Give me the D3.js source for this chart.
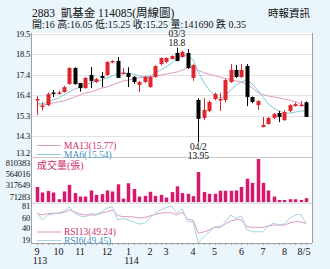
<!DOCTYPE html>
<html>
<head>
<meta charset="utf-8">
<script src="https://cdn.jsdelivr.net/npm/d3@7"></script>
<style>
	html, body { margin: 0; padding: 0; background: #eaf5fc; }
	svg { display: block; font-family: "Liberation Serif", "Noto Sans CJK TC", serif; }
</style>
</head>
<body>
<svg id="chart" width="330" height="269"></svg>
<script>
"use strict";

// Weekly candles, 2883 (Sept 113 .. 8/5 114)
var opens  = [16.12,15.78,15.86,16.5,16.45,16.53,16.94,17.76,16.99,16.73,17.4,17.04,17.35,17.4,18.05,18.12,17.48,17.5,17.3,16.89,17.04,16.78,17.3,17.96,18.07,18.22,18.53,18.32,18.53,17.25,16.12,15.2,15.56,16.17,16.12,16.12,17.04,17.66,17.3,17.86,16.27,15.86,14.74,14.89,15.2,15.45,15.09,15.56,15.81,15.84,16.0];
var closes = [16.17,15.83,16.43,16.45,16.5,16.78,17.76,16.94,16.73,17.25,17.09,17.19,17.25,18.07,18.12,17.25,17.52,17.3,17.04,17.04,17.3,17.3,17.86,18.27,18.27,18.37,18.12,18.58,17.76,17.91,15.15,15.61,16.02,16.43,16.17,17.14,17.66,17.3,17.66,16.27,16.02,16.07,14.84,15.2,15.4,15.25,15.5,15.86,15.91,15.88,15.25];
var highs  = [16.32,16.0,16.5,16.63,16.6,16.85,17.8,17.8,17.0,17.3,17.81,17.25,17.55,18.1,18.15,18.32,17.76,17.8,17.35,17.1,17.35,17.35,17.9,18.3,18.3,18.4,18.8,18.65,18.73,17.95,16.2,16.22,16.1,16.5,16.48,17.2,17.96,17.91,17.96,17.96,16.3,16.1,15.25,15.25,15.45,15.56,15.6,15.9,16.0,16.07,16.05];
var lows   = [15.35,15.6,15.8,16.27,16.4,16.5,16.9,16.9,16.55,16.7,16.73,17.0,16.78,17.35,18.0,17.25,17.45,16.78,16.95,16.53,17.0,16.75,17.25,17.9,18.0,18.2,18.1,18.3,17.71,17.1,13.95,15.09,15.5,16.1,15.56,16.0,17.0,17.25,17.25,15.81,15.96,15.61,14.72,14.85,15.15,14.99,15.05,15.5,15.78,15.8,15.25];
var volumes = [283600,179400,206400,179400,52100,198700,322200,167900,102300,102300,218000,135100,148600,218000,198700,333800,63700,353100,245000,102300,115800,193000,115800,135000,83000,187200,295200,167900,154400,110000,565300,187200,154400,154400,212200,212200,212200,218000,283600,438000,360800,810383,360800,218000,102300,38600,38600,52100,52100,38600,71400];
var ma13 = [15.86,15.86,15.91,15.97,16.02,16.07,16.17,16.27,16.38,16.48,16.53,16.63,16.73,16.78,16.89,16.99,17.09,17.14,17.19,17.25,17.30,17.30,17.35,17.40,17.45,17.50,17.55,17.66,17.76,17.81,17.64,17.52,17.44,17.37,17.29,17.22,17.17,17.10,17.04,16.92,16.74,16.52,16.38,16.32,16.28,16.22,16.16,16.10,16.03,15.92,15.77];
var ma6  = [15.97,15.91,16.02,16.12,16.22,16.38,16.53,16.68,16.78,16.89,16.99,17.09,17.14,17.25,17.35,17.45,17.50,17.50,17.45,17.35,17.30,17.35,17.50,17.66,17.81,18.01,18.22,18.37,18.42,18.17,17.55,17.04,16.63,16.38,16.22,16.32,16.63,16.89,17.04,17.14,16.94,16.63,16.27,15.91,15.71,15.56,15.45,15.45,15.50,15.56,15.54];
var rsi13 = [67.7,64.6,67.3,67.7,67.7,69.1,73.7,70.1,66.4,64.6,64.6,64.6,68.2,70.6,73.7,63.7,61.5,61.5,60.9,59.1,60.0,62.8,65.5,68.2,68.8,68.8,64.6,70.1,56.7,55.5,31.2,33.6,37.2,42.7,43.3,48.2,53.6,56.4,55.5,43.3,42.2,42.2,42.2,44.5,46.4,46.4,46.4,50.0,52.4,52.4,49.24];
var rsi6  = [68.8,55.5,64.6,66.4,68.2,71.9,79.2,68.2,62.8,60.9,67.3,65.5,70.1,76.8,79.7,55.5,58.2,55.5,51.8,48.2,50.0,58.6,68.2,73.7,78.3,81.0,67.7,76.4,52.4,51.8,13.5,24.5,33.6,42.7,40.3,51.8,64.6,58.6,62.8,37.2,34.1,34.1,34.1,44.5,50.0,46.4,48.2,59.1,64.6,66.4,49.45];

// Axis labels
var priceTicks = ['19.5','18.5','17.4','16.4','15.3','14.3','13.2'];
var volTicks = ['810383','564016','317649','71283'];
var rsiTicks = ['81','60','40','19'];
var monthLabels = ['9','10','11','12','1','2','3','4','5','6','7','8','8/5'];
var monthIndex  = [0,4,8,13,17,21,24,29,33,38,42,46,50];
var yearLabels = ['113','114'];
var yearIndex  = [0,17];

+function(d3){

	var colors = {
		bg: '#eaf5fc',
		up: '#e0262c',
		down: '#000',
		vol: '#d8186e',
		ma13: '#dc9cbc',
		ma6: '#86c6da',
		rsi6: '#a6d2e2',
		pinkText: '#d2306c',
		blueText: '#3f92c4',
		grid: '#e2e2e2',
		axis: '#a0a0a0',
		text: '#111'
	};

	var svg = d3.select('#chart');
	var W = 330, H = 269;
	var left = 31, right = 312, plotTop = 33, priceBottom = 157.5, volBottom = 203, bottom = 243;

	svg.append('rect').attr('width', W).attr('height', H).attr('fill', colors.bg);
	svg.append('rect').attr('x', left).attr('y', plotTop).attr('width', right - left).attr('height', bottom - plotTop).attr('fill', '#fff');

	var idx = d3.range(closes.length);
	var x = d3.scalePoint().domain(idx).range([37, 306]);
	var y = d3.scaleLinear().domain([13.2, 19.5]).range([157, 34]);
	var yv = d3.scaleLinear().domain([0, 810383]).range([202, 159]);
	var yr = d3.scaleLinear().domain([19, 81]).range([240, 206]);

	// Grid lines (price panel)
	svg.append('g').selectAll('line').data(priceTicks).join('line')
		.attr('x1', left).attr('x2', right)
		.attr('y1', function(d){ return Math.round(y(+d)) + 0.5; })
		.attr('y2', function(d){ return Math.round(y(+d)) + 0.5; })
		.attr('stroke', colors.grid);

	// Panel separators and borders
	[priceBottom, volBottom].forEach(function(v){
		svg.append('line').attr('x1', left).attr('x2', right).attr('y1', v).attr('y2', v).attr('stroke', '#c8c8c8');
	});
	svg.append('line').attr('x1', left).attr('x2', right).attr('y1', bottom + 0.5).attr('y2', bottom + 0.5).attr('stroke', colors.axis);
	svg.append('line').attr('x1', left + 0.5).attr('x2', left + 0.5).attr('y1', plotTop).attr('y2', bottom).attr('stroke', colors.axis);
	svg.append('line').attr('x1', right + 0.5).attr('x2', right + 0.5).attr('y1', plotTop).attr('y2', bottom).attr('stroke', colors.axis);

	// Minor ticks below axis, one per week
	svg.append('g').selectAll('line').data(idx).join('line')
		.attr('x1', function(d){ return Math.round(x(d)) + 0.5; })
		.attr('x2', function(d){ return Math.round(x(d)) + 0.5; })
		.attr('y1', bottom).attr('y2', bottom + 2)
		.attr('stroke', colors.axis);

	// Left labels (nudged apart where panels meet)
	var labelStyle = function(sel){
		sel.attr('text-anchor', 'end').attr('font-size', 8.5).attr('letter-spacing', -0.2).attr('fill', colors.text);
	};
	var volNudge = [3.5, 1.5, 0, -1.2];
	svg.append('g').selectAll('text').data(priceTicks).join('text')
		.attr('x', 30).attr('y', function(d, i){ return y(+d) + (i === priceTicks.length - 1 ? -1 : 3); })
		.text(function(d){ return d; }).call(labelStyle);
	svg.append('g').selectAll('text').data(volTicks).join('text')
		.attr('x', 30).attr('y', function(d, i){ return yv(+d) + 3 + volNudge[i]; })
		.text(function(d){ return d; }).call(labelStyle);
	svg.append('g').selectAll('text').data(rsiTicks).join('text')
		.attr('x', 30).attr('y', function(d){ return yr(+d) + 3; })
		.text(function(d){ return d; }).call(labelStyle);

	// Month / year labels
	svg.append('g').selectAll('text').data(monthLabels).join('text')
		.attr('x', function(d, i){ return x(monthIndex[i]) - (d === '8/5' ? 2 : 0); })
		.attr('y', 254.5)
		.attr('text-anchor', 'middle').attr('font-size', 10).attr('fill', colors.text)
		.text(function(d){ return d; });
	svg.append('g').selectAll('text').data(yearLabels).join('text')
		.attr('x', function(d, i){ return x(yearIndex[i]) + 3; })
		.attr('y', 264)
		.attr('text-anchor', 'middle').attr('font-size', 10).attr('fill', colors.text)
		.text(function(d){ return d; });

	// Moving averages
	var maLine = d3.line().x(function(d, i){ return x(i); }).y(function(d){ return y(d); });
	svg.append('path').datum(ma13).attr('d', maLine).attr('fill', 'none').attr('stroke', colors.ma13);
	svg.append('path').datum(ma6).attr('d', maLine).attr('fill', 'none').attr('stroke', colors.ma6);

	// Candles
	var bw = 4;
	var candle = svg.append('g').selectAll('g').data(idx).join('g');
	candle.append('line')
		.attr('x1', function(i){ return Math.round(x(i)) + 0.5; })
		.attr('x2', function(i){ return Math.round(x(i)) + 0.5; })
		.attr('y1', function(i){ return y(highs[i]); })
		.attr('y2', function(i){ return y(lows[i]); })
		.attr('stroke', function(i){ return closes[i] >= opens[i] ? colors.up : colors.down; });
	candle.append('rect')
		.attr('x', function(i){ return Math.round(x(i)) + 0.5 - bw / 2; })
		.attr('y', function(i){ return y(Math.max(opens[i], closes[i])); })
		.attr('width', bw)
		.attr('height', function(i){ return Math.max(1.5, Math.abs(y(opens[i]) - y(closes[i]))); })
		.attr('fill', function(i){ return closes[i] >= opens[i] ? colors.up : colors.down; });

	// Volume bars
	svg.append('g').selectAll('rect').data(volumes).join('rect')
		.attr('x', function(d, i){ return Math.round(x(i)) + 0.5 - 1.75; })
		.attr('y', function(d){ return yv(d); })
		.attr('width', 3.5)
		.attr('height', function(d){ return yv(0) - yv(d); })
		.attr('fill', colors.vol);

	// RSI lines
	var rsiLine = d3.line().x(function(d, i){ return x(i); }).y(function(d){ return Math.min(bottom, yr(d)); });
	svg.append('path').datum(rsi13).attr('d', rsiLine).attr('fill', 'none').attr('stroke', colors.ma13);
	svg.append('path').datum(rsi6).attr('d', rsiLine).attr('fill', 'none').attr('stroke', colors.rsi6);

	// Legends
	function legend(yLine, label, lineColor, textColor) {
		svg.append('line').attr('x1', 37).attr('x2', 61).attr('y1', yLine).attr('y2', yLine).attr('stroke', lineColor);
		svg.append('text').attr('x', 64).attr('y', yLine + 3.2).attr('font-size', 9.5).attr('fill', textColor).text(label);
	}
	legend(145.5, 'MA13(15.77)', colors.ma13, colors.pinkText);
	legend(154.5, 'MA6(15.54)', colors.ma6, colors.blueText);
	legend(232, 'RSI13(49.24)', colors.ma13, colors.pinkText);
	legend(240.5, 'RSI6(49.45)', colors.rsi6, colors.blueText);
	svg.append('text').attr('x', 37).attr('y', 169).attr('font-size', 10).attr('fill', colors.pinkText).text('成交量(張)');

	// High / low notes
	var hi = 26, lo = 30;
	var note = function(xx, yy, t){
		svg.append('text').attr('x', xx).attr('y', yy).attr('text-anchor', 'middle').attr('font-size', 9.5).attr('fill', colors.text).text(t);
	};
	note(x(hi), 37, '03/3');
	note(x(hi), 46, highs[hi].toFixed(1));
	note(x(lo), 150, '04/2');
	note(x(lo), 159, lows[lo].toFixed(2));

	// Header
	svg.append('text').attr('x', 32).attr('y', 16.5).attr('font-size', 11.5).attr('fill', colors.text)
		.attr('xml:space', 'preserve').text('2883  凱基金 114085(周線圖)');
	svg.append('text').attr('x', 32).attr('y', 28).attr('font-size', 10).attr('fill', colors.text)
		.text('開:16 高:16.05 低:15.25 收:15.25 量:141690 跌 0.35');
	svg.append('text').attr('x', 310).attr('y', 17).attr('text-anchor', 'end').attr('font-size', 10.5).attr('fill', colors.text)
		.text('時報資訊');

}(d3);
</script>
</body>
</html>
